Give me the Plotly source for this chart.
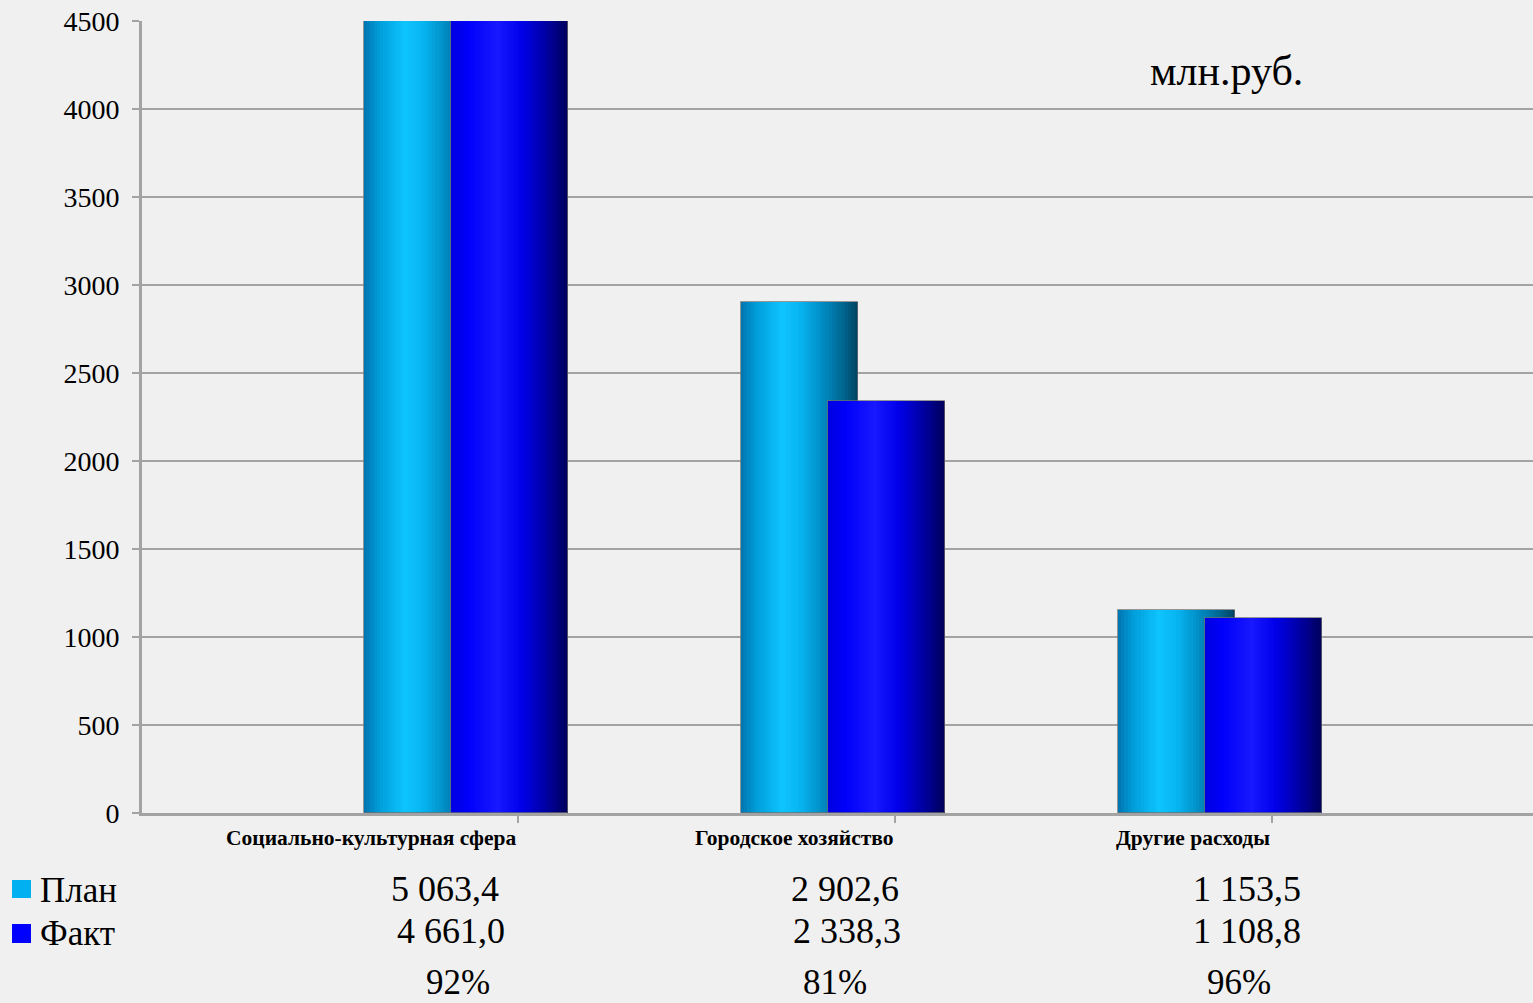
import plotly.graph_objects as go

# ---- data ----
categories = ["Социально-культурная сфера", "Городское хозяйство", "Другие расходы"]
plan = [5063.4, 2902.6, 1153.5]
fact = [4661.0, 2338.3, 1108.8]
series_names = ["План", "Факт"]
y_ticks = [0, 500, 1000, 1500, 2000, 2500, 3000, 3500, 4000, 4500]
unit_label = "млн.руб."

# ---- style ----
W, H = 1533, 1003
ML, MR, MT, MB = 142, 0, 21, 190
PW, PH = W - ML - MR, H - MT - MB
FONT = "Liberation Serif, Times New Roman, serif"
BG = "#f0f0f0"
GRID = "#a3a3a3"

def px2paper_x(px):
    return (px - ML) / PW

def px2paper_y(py):
    return (H - MB - py) / PH

BAR_W = 0.310
PLAN_OFF = -0.2706
FACT_OFF = -0.0398
TICK_OFF = 0.137
N_STRIPS = 36

plan_stops = [(0.0, (0, 115, 175)), (0.12, (0, 155, 215)), (0.35, (14, 196, 255)),
              (0.5, (8, 182, 242)), (0.72, (0, 135, 190)), (0.9, (0, 95, 135)), (1.0, (0, 65, 95))]
fact_stops = [(0.0, (0, 0, 225)), (0.15, (0, 0, 250)), (0.4, (24, 24, 255)),
              (0.6, (0, 0, 235)), (0.82, (0, 0, 160)), (1.0, (0, 0, 90))]

def grad(stops, t):
    for (t0, c0), (t1, c1) in zip(stops[:-1], stops[1:]):
        if t0 <= t <= t1:
            f = (t - t0) / (t1 - t0) if t1 > t0 else 0
            c = [round(a + (b - a) * f) for a, b in zip(c0, c1)]
            return "rgb(%d,%d,%d)" % tuple(c)
    return "rgb(%d,%d,%d)" % stops[-1][1]

xs = list(range(len(categories)))
fig = go.Figure()

def add_series(values, off, stops, name):
    sw = BAR_W / N_STRIPS
    X, Y, O, C = [], [], [], []
    for i, v in zip(xs, values):
        for k in range(N_STRIPS):
            X.append(i)
            Y.append(v)
            O.append(off + k * sw)
            C.append(grad(stops, (k + 0.5) / N_STRIPS))
    fig.add_trace(go.Bar(x=X, y=Y, offset=O, width=sw + 0.0004, name=name,
                         marker=dict(color=C, line=dict(width=0)), showlegend=False,
                         hoverinfo="skip"))
    fig.add_trace(go.Bar(x=xs, y=values, offset=off, width=BAR_W, name=name,
                         marker=dict(color="rgba(0,0,0,0)", line=dict(width=1, color="rgba(110,110,110,0.7)")),
                         showlegend=False, hoverinfo="skip"))

add_series(plan, PLAN_OFF, plan_stops, series_names[0])
add_series(fact, FACT_OFF, fact_stops, series_names[1])

x_lo = (ML - 466) / 377
x_hi = (W - MR - 466) / 377

fig.update_layout(
    width=W, height=H,
    margin=dict(l=ML, r=MR, t=MT, b=MB, pad=0),
    paper_bgcolor=BG, plot_bgcolor=BG,
    barmode="overlay", bargap=0,
    showlegend=False,
    font=dict(family=FONT, color="black"),
    xaxis=dict(range=[x_lo, x_hi], tickmode="array",
               tickvals=[i + TICK_OFF for i in xs], ticktext=["" for _ in xs],
               ticks="outside", ticklen=7, tickwidth=2, tickcolor=GRID,
               showline=True, linecolor=GRID, linewidth=3,
               showgrid=False, zeroline=False, fixedrange=True),
    yaxis=dict(range=[0, 4500], tickmode="array", tickvals=y_ticks,
               ticktext=[str(t) for t in y_ticks],
               tickfont=dict(size=28, family=FONT, color="black"),
               ticks="outside", ticklen=7, tickwidth=2, tickcolor=GRID,
               ticklabelstandoff=7,
               showline=True, linecolor=GRID, linewidth=3,
               showgrid=True, gridcolor=GRID, gridwidth=2,
               zeroline=False, fixedrange=True),
)

ann = []
# category labels (right-aligned at ticks)
for i, c in zip(xs, categories):
    ann.append(dict(x=i + TICK_OFF, y=px2paper_y(838), xref="x", yref="paper",
                    text="<b>%s</b>" % c, showarrow=False, xanchor="right", yanchor="middle",
                    font=dict(size=21.5, family=FONT, color="black")))

def fmt(v):
    s = "%.1f" % v
    ip, dp = s.split(".")
    groups = []
    while len(ip) > 3:
        groups.insert(0, ip[-3:])
        ip = ip[:-3]
    groups.insert(0, ip)
    return " ".join(groups) + "," + dp

row1_px = [445, 845, 1247]
row2_px = [451, 847, 1247]
pct_px = [458, 835, 1239]
for i in xs:
    ann.append(dict(x=px2paper_x(row1_px[i]), y=px2paper_y(889), xref="paper", yref="paper",
                    text=fmt(plan[i]), showarrow=False, xanchor="center", yanchor="middle",
                    font=dict(size=36, family=FONT, color="black")))
    ann.append(dict(x=px2paper_x(row2_px[i]), y=px2paper_y(931), xref="paper", yref="paper",
                    text=fmt(fact[i]), showarrow=False, xanchor="center", yanchor="middle",
                    font=dict(size=36, family=FONT, color="black")))
    pct = round(fact[i] / plan[i] * 100)
    ann.append(dict(x=px2paper_x(pct_px[i]), y=px2paper_y(982), xref="paper", yref="paper",
                    text="%d%%" % pct, showarrow=False, xanchor="center", yanchor="middle",
                    font=dict(size=35, family=FONT, color="black")))

# legend texts
for name, cy in zip(series_names, [890, 934]):
    ann.append(dict(x=px2paper_x(38), y=px2paper_y(cy), xref="paper", yref="paper",
                    text=name, showarrow=False, xanchor="left", yanchor="middle",
                    font=dict(size=35, family=FONT, color="black")))

ann.append(dict(x=px2paper_x(1148), y=px2paper_y(71), xref="paper", yref="paper",
                text=unit_label, showarrow=False, xanchor="left", yanchor="middle",
                font=dict(size=42, family=FONT, color="black")))

fig.update_layout(annotations=ann)

# legend squares
shapes = []
for col, (y0, y1) in zip(["#00b0f0", "#0000ff"], [(880, 898), (924, 943)]):
    shapes.append(dict(type="rect", xref="paper", yref="paper",
                       x0=px2paper_x(12), x1=px2paper_x(31), y0=px2paper_y(y1), y1=px2paper_y(y0),
                       fillcolor=col, line=dict(width=0)))
fig.update_layout(shapes=shapes)

fig.write_html("out.html", config={"displayModeBar": False},
               post_script="document.body.style.margin='0';document.body.style.overflow='hidden';")
